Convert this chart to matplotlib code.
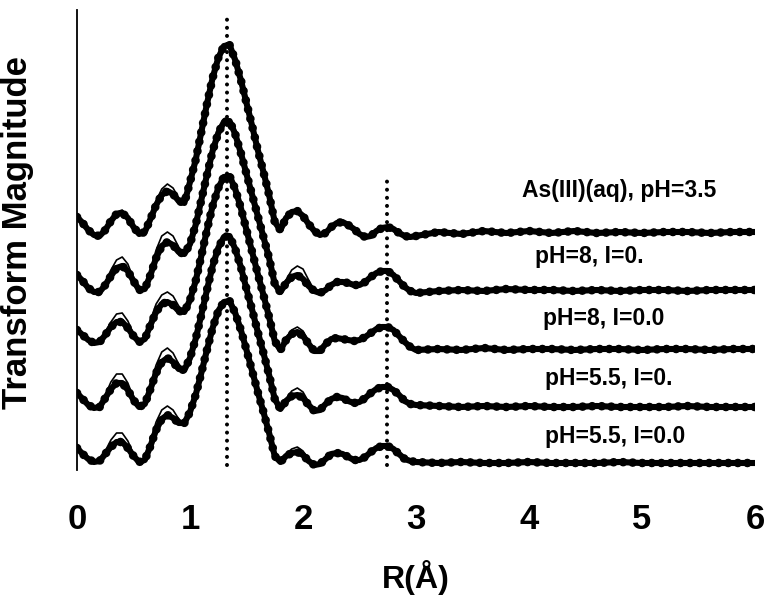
import matplotlib
matplotlib.use("Agg")
import matplotlib.pyplot as plt

plt.rcParams["font.family"] = ["Liberation Sans", "DejaVu Sans"]
plt.rcParams["font.weight"] = "bold"

# ── data: FT magnitude vs R for each sample ───────────────────────────────────
r = [0.00, 0.05, 0.10, 0.15, 0.20, 0.25, 0.30, 0.35, 0.40, 0.45,
     0.50, 0.55, 0.60, 0.65, 0.70, 0.75, 0.80, 0.85, 0.90, 0.95,
     1.00, 1.05, 1.10, 1.15, 1.20, 1.25, 1.30, 1.35, 1.40, 1.45,
     1.50, 1.55, 1.60, 1.65, 1.70, 1.75, 1.80, 1.85, 1.90, 1.95,
     2.00, 2.05, 2.10, 2.15, 2.20, 2.25, 2.30, 2.35, 2.40, 2.45,
     2.50, 2.55, 2.60, 2.65, 2.70, 2.75, 2.80, 2.85, 2.90, 2.95,
     3.00, 3.20, 3.40, 3.60, 3.80, 4.00, 4.20, 4.40, 4.60, 4.80,
     5.00, 5.20, 5.40, 5.60, 5.80, 6.00]

as_aq = [0.21, 0.15, 0.08, 0.03, 0.02, 0.08, 0.17, 0.24, 0.25, 0.20,
         0.11, 0.04, 0.06, 0.19, 0.33, 0.43, 0.47, 0.44, 0.37, 0.35,
         0.56, 0.78, 1.06, 1.34, 1.60, 1.80, 1.92, 1.93, 1.78, 1.58,
         1.35, 1.12, 0.88, 0.66, 0.43, 0.16, 0.08, 0.20, 0.26, 0.27,
         0.22, 0.14, 0.07, 0.03, 0.05, 0.11, 0.15, 0.16, 0.13, 0.09,
         0.04, 0.01, 0.02, 0.07, 0.10, 0.11, 0.09, 0.05, 0.02, 0.01,
         0.02, 0.06, 0.04, 0.07, 0.05, 0.07, 0.05, 0.07, 0.05, 0.06,
         0.05, 0.06, 0.06, 0.05, 0.06, 0.06]

ph8_i01 = [0.21, 0.15, 0.08, 0.04, 0.04, 0.11, 0.20, 0.28, 0.30, 0.25,
           0.15, 0.06, 0.07, 0.21, 0.38, 0.50, 0.54, 0.51, 0.44, 0.42,
           0.52, 0.71, 0.96, 1.21, 1.45, 1.63, 1.74, 1.75, 1.62, 1.43,
           1.22, 1.01, 0.80, 0.59, 0.38, 0.12, 0.04, 0.13, 0.19, 0.21,
           0.17, 0.10, 0.05, 0.03, 0.06, 0.11, 0.14, 0.14, 0.13, 0.11,
           0.11, 0.14, 0.19, 0.23, 0.25, 0.25, 0.21, 0.15, 0.09, 0.05,
           0.03, 0.05, 0.06, 0.05, 0.07, 0.06, 0.06, 0.05, 0.06, 0.05,
           0.06, 0.06, 0.05, 0.06, 0.06, 0.06]

ph8_i00 = [0.25, 0.20, 0.15, 0.12, 0.13, 0.20, 0.28, 0.33, 0.33, 0.27,
           0.19, 0.13, 0.16, 0.30, 0.43, 0.51, 0.53, 0.50, 0.44, 0.43,
           0.55, 0.74, 0.99, 1.25, 1.49, 1.67, 1.78, 1.79, 1.66, 1.47,
           1.25, 1.03, 0.81, 0.60, 0.38, 0.14, 0.05, 0.15, 0.21, 0.23,
           0.19, 0.11, 0.04, 0.04, 0.11, 0.16, 0.17, 0.16, 0.15, 0.14,
           0.15, 0.18, 0.22, 0.26, 0.28, 0.28, 0.25, 0.19, 0.13, 0.08,
           0.05, 0.06, 0.05, 0.07, 0.05, 0.06, 0.06, 0.05, 0.06, 0.06,
           0.05, 0.06, 0.06, 0.05, 0.06, 0.06]

ph55_i01 = [0.20, 0.14, 0.08, 0.05, 0.06, 0.15, 0.24, 0.30, 0.30, 0.23,
            0.13, 0.06, 0.09, 0.24, 0.40, 0.51, 0.55, 0.51, 0.44, 0.43,
            0.55, 0.74, 0.98, 1.23, 1.47, 1.65, 1.76, 1.77, 1.64, 1.46,
            1.24, 1.03, 0.81, 0.60, 0.38, 0.14, 0.04, 0.12, 0.17, 0.18,
            0.15, 0.08, 0.02, 0.03, 0.09, 0.14, 0.16, 0.15, 0.12, 0.10,
            0.11, 0.15, 0.20, 0.24, 0.26, 0.26, 0.23, 0.18, 0.12, 0.09,
            0.08, 0.07, 0.06, 0.07, 0.06, 0.07, 0.06, 0.06, 0.07, 0.06,
            0.06, 0.06, 0.07, 0.06, 0.06, 0.06]

ph55_i00 = [0.21, 0.15, 0.10, 0.07, 0.08, 0.15, 0.22, 0.27, 0.27, 0.21,
            0.13, 0.07, 0.09, 0.23, 0.39, 0.50, 0.54, 0.51, 0.46, 0.46,
            0.57, 0.74, 0.96, 1.19, 1.41, 1.58, 1.67, 1.68, 1.56, 1.39,
            1.19, 0.98, 0.77, 0.57, 0.36, 0.13, 0.07, 0.13, 0.16, 0.17,
            0.14, 0.08, 0.04, 0.05, 0.10, 0.15, 0.16, 0.15, 0.12, 0.09,
            0.09, 0.12, 0.17, 0.21, 0.23, 0.23, 0.20, 0.15, 0.10, 0.08,
            0.07, 0.06, 0.07, 0.06, 0.06, 0.07, 0.06, 0.06, 0.06, 0.07,
            0.06, 0.06, 0.06, 0.06, 0.06, 0.06]

# fits only differ visibly from the data below 1 A and around 1.8-2.2 A
r_fit_lo = r[:21]
r_fit_hi = r[36:45]

fit_lo = [
    [0.21, 0.15, 0.08, 0.03, 0.02, 0.08, 0.17, 0.26, 0.28, 0.21,
     0.11, 0.04, 0.06, 0.21, 0.37, 0.49, 0.54, 0.50, 0.40, 0.35, 0.56],
    [0.21, 0.15, 0.08, 0.04, 0.05, 0.14, 0.26, 0.36, 0.39, 0.32,
     0.17, 0.06, 0.08, 0.26, 0.46, 0.60, 0.64, 0.60, 0.49, 0.42, 0.52],
    [0.25, 0.20, 0.15, 0.12, 0.14, 0.23, 0.33, 0.41, 0.42, 0.34,
     0.21, 0.13, 0.17, 0.35, 0.51, 0.60, 0.63, 0.59, 0.49, 0.43, 0.55],
    [0.20, 0.14, 0.08, 0.05, 0.07, 0.18, 0.31, 0.39, 0.39, 0.30,
     0.15, 0.06, 0.10, 0.29, 0.48, 0.61, 0.65, 0.60, 0.49, 0.43, 0.55],
    [0.21, 0.15, 0.10, 0.07, 0.09, 0.18, 0.29, 0.36, 0.36, 0.28,
     0.15, 0.07, 0.10, 0.28, 0.47, 0.59, 0.63, 0.59, 0.50, 0.46, 0.57],
]
fit_hi = [
    [0.08, 0.20, 0.26, 0.27, 0.22, 0.14, 0.07, 0.03, 0.05],
    [0.04, 0.16, 0.26, 0.30, 0.27, 0.16, 0.06, 0.03, 0.06],
    [0.05, 0.17, 0.25, 0.28, 0.24, 0.14, 0.05, 0.04, 0.11],
    [0.04, 0.14, 0.22, 0.25, 0.21, 0.11, 0.03, 0.03, 0.09],
    [0.07, 0.15, 0.20, 0.22, 0.18, 0.10, 0.04, 0.05, 0.10],
]

data = [as_aq, ph8_i01, ph8_i00, ph55_i01, ph55_i00]
labels = ["As(III)(aq), pH=3.5", "pH=8, I=0.", "pH=8, I=0.0",
          "pH=5.5, I=0.", "pH=5.5, I=0.0"]
offsets = [2.32, 1.74, 1.15, 0.57, 0.01]

# label anchors (R, stacked magnitude)
label_r = [3.94, 4.05, 4.12, 4.14, 4.14]
label_y = [2.80, 2.13, 1.51, 0.92, 0.33]

# first- and second-shell distances
shell_r = [1.33, 2.74]
shell_top = [4.53, 2.95]

# ── figure ────────────────────────────────────────────────────────────────────
fig = plt.figure(figsize=(7.68, 6.0), dpi=100)
ax = fig.add_axes([77 / 768, 130 / 600, 678 / 768, 460 / 600])

for k, (y, off) in enumerate(zip(data, offsets)):
    ys = [v + off for v in y]
    ax.plot(r_fit_lo, [v + off for v in fit_lo[k]], color="black", lw=1.2,
            zorder=2, solid_capstyle="round")
    ax.plot(r_fit_hi, [v + off for v in fit_hi[k]], color="black", lw=1.2,
            zorder=2, solid_capstyle="round")
    # data: thick core plus beads so steep parts look like dotted points
    ax.plot(r, ys, color="black", lw=4.4, zorder=3, solid_capstyle="round",
            solid_joinstyle="round")
    ax.plot(r, ys, color="black", lw=6.2, zorder=3, ls=(0, (0.01, 1.1)),
            dash_capstyle="round")
    ax.text(label_r[k], label_y[k], labels[k], fontsize=16.5, fontweight="bold",
            ha="left", va="center")

for xr, top in zip(shell_r, shell_top):
    ax.plot([xr, xr], [0.05, top], color="black", lw=2.9,
            ls=(0, (0.01, 2.0)), dash_capstyle="round", zorder=4)

ax.set_xlim(0, 6)
ax.set_ylim(0, 4.6)
ax.set_xticks([0, 1, 2, 3, 4, 5, 6])
ax.set_yticks([])
ax.tick_params(axis="x", length=0, pad=24, labelsize=25)
for t in ax.get_xticklabels():
    t.set_fontweight("bold")
    t.set_fontfamily(["Liberation Sans Narrow", "Liberation Sans"])

for side in ["top", "right", "bottom"]:
    ax.spines[side].set_visible(False)
ax.spines["left"].set_linewidth(1.3)

ax.set_xlabel("R(Å)", fontsize=23, fontweight="bold")
ax.xaxis.set_label_coords(0.5, -0.195)
ax.set_ylabel("Transform Magnitude", fontsize=25, fontweight="bold")
ax.yaxis.set_label_coords(-0.063, 0.517)

fig.savefig("out.png", dpi=100)
